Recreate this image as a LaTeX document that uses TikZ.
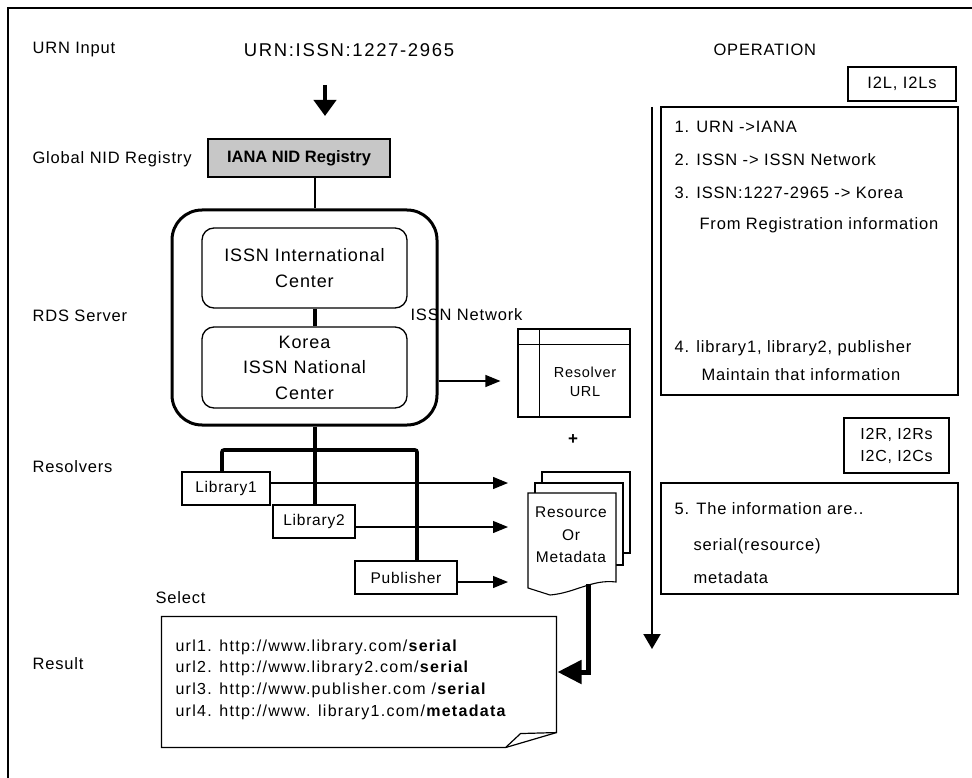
\documentclass[tikz,border=0pt]{standalone}
\usepackage{fontspec}
\setmainfont{Liberation Sans}[LetterSpace=5]
\usetikzlibrary{arrows.meta}

\newcommand{\txtsize}[2]{\fontsize{#1}{#2}\selectfont}

\begin{document}
\begin{tikzpicture}[x=1pt, y=-1pt, line width=1.1pt,
  lbl/.style={anchor=west, inner sep=0pt, font=\txtsize{16.5}{18}},
  optxt/.style={anchor=west, inner sep=0pt, font=\txtsize{16.5}{18}},
  box/.style={draw, line width=1.2pt, inner sep=0pt},
  centerbox/.style={draw, line width=1.3pt, rounded corners=12pt, inner sep=0pt,
    align=center, font=\txtsize{18}{25.5}},
  lib/.style={box, minimum height=33pt, font=\txtsize{15.5}{18}},
  arr/.style={-{Triangle[length=15pt,width=12pt]}, line width=1.2pt},
  bus/.style={line width=3.6pt},
]
  \useasboundingbox (0,0) rectangle (972,778);

  % Frame
  \draw[line width=1.2pt] (8,778) -- (8,8) -- (972,8);

  % Labels on the left
  \node[lbl] (lblurn) at (32,50) {URN Input};
  \node[lbl] (lblglobal) at (32,159) {Global NID Registry};
  \node[lbl] (lblres) at (32,467) {Resolvers};
  \node[lbl] (lblrds) at (32,316) {RDS Server};
  \node[lbl] (lblresult) at (32,664) {Result};

  % Input
  \node[inner sep=0pt, font=\txtsize{18.5}{20}\addfontfeatures{LetterSpace=9}] (urn) at (349,50) {URN:ISSN:1227-2965};
  \coordinate (intop) at (325,85);
  \coordinate (intip) at (325,116);
  \draw[-{Triangle[length=16pt,width=22pt]}, line width=4.5pt] (intop) -- (intip);

  % Registry
  \node[box, fill=black!22, minimum width=182pt, minimum height=38pt,
    font=\txtsize{16.5}{18}\bfseries\addfontfeatures{LetterSpace=0}] (iana) at (299,158) {IANA NID Registry};
  \coordinate (spine) at (315,0);

  % RDS server
  \node[draw, line width=3pt, rounded corners=30pt, minimum width=265pt, minimum height=215pt] (rds) at (304.5,317.5) {};
  \node[centerbox, minimum width=205pt, minimum height=80pt] (intl) at (304.5,268) {ISSN International\\Center};
  \node[centerbox, minimum width=205pt, minimum height=81pt] (kor) at (304.5,367.5) {Korea\\ISSN National\\Center};
  \node[lbl] (net) at (410,315) {ISSN Network};
  \draw[line width=2.4pt] (iana.south -| spine) -- (rds.north -| spine);
  \draw[line width=3.6pt] (intl.south -| spine) -- (kor.north -| spine);

  % Resolver URL
  \node[box, minimum width=112pt, minimum height=88pt] (resurl) at (574,373) {};
  \draw[line width=1.2pt] ([xshift=22pt]resurl.north west) -- ([xshift=22pt]resurl.south west);
  \draw[line width=1.2pt] ([yshift=-16pt]resurl.north west) -- ([yshift=-16pt]resurl.north east);
  \node[align=center, font=\txtsize{14.5}{19}] (resurltxt) at (585,382) {Resolver\\URL};
  \draw[arr, shorten >=17pt] ([yshift=-63.5pt]rds.east) -- ([yshift=-63.5pt]rds.east -| resurl.west);
  \node[font=\txtsize{17}{18}\bfseries] (plus) at (573,440) {+};

  % Resolvers
  \node[lib, minimum width=88pt] (lib1) at (226,488.5) {Library1};
  \node[lib, minimum width=82pt] (lib2) at (314,521.5) {Library2};
  \node[lib, minimum width=102pt] (pub) at (406,577.5) {Publisher};
  \coordinate (busL) at (222,450);
  \coordinate (busR) at (417,450);
  \draw[bus, rounded corners=2pt] (lib1.north -| busL) -- (busL) -- (busR) -- (pub.north -| busR);
  \draw[bus] (rds.south -| spine) -- (lib2.north -| spine);

  % Resource or metadata
  \draw[fill=white] (542,472) rectangle (630,553);
  \draw[fill=white] (535,483) rectangle (623,565);
  \draw[fill=white] (528,588) -- (550,595) .. controls (575,593) and (592,579) .. (616,582)
    -- (616,493) -- (528,493) -- cycle;
  \node[align=center, font=\txtsize{15.5}{22.5}] (resdoc) at (571,535) {Resource\\Or\\Metadata};
  \coordinate (front) at (528,493);
  \draw[arr, shorten >=20pt] ([yshift=5.5pt]lib1.east) -- ([yshift=5.5pt]lib1.east -| front);
  \draw[arr, shorten >=20pt] ([yshift=-5.5pt]lib2.east) -- ([yshift=-5.5pt]lib2.east -| front);
  \draw[arr, shorten >=20pt] ([yshift=-4.5pt]pub.east) -- ([yshift=-4.5pt]pub.east -| front);

  % Result
  \node[lbl, font=\txtsize{16.5}{18}] (select) at (155,598) {Select};
  \node[minimum width=394pt, minimum height=130pt, inner sep=0pt] (resbox) at (359,682) {};
  \draw[line width=1.2pt] (resbox.north west) -- (resbox.north east) -- ([yshift=15pt]resbox.south east)
    -- ([xshift=-51pt]resbox.south east) -- (resbox.south west) -- cycle;
  \draw[line width=1.2pt] ([yshift=15pt]resbox.south east) -- ([xshift=-36pt,yshift=14pt]resbox.south east)
    -- ([xshift=-51pt]resbox.south east);
  \node[anchor=west, align=left, inner sep=0pt, font=\txtsize{16}{21.7}\addfontfeatures{LetterSpace=8}] (urls) at (175,679.5)
    {url1. http://www.library.com/\textbf{serial}\\
     url2. http://www.library2.com/\textbf{serial}\\
     url3. http://www.publisher.com /\textbf{serial}\\
     url4. http://www. library1.com/\textbf{metadata}};
  \coordinate (docdrop) at (588,584);
  \draw[-{Triangle[length=24pt,width=23pt]}, line width=5pt, shorten >=1pt] (docdrop) |- ([yshift=10pt]resbox.east);

  % Operation
  \node[lbl] (oper) at (713,50) {OPERATION};
  \node[box, minimum width=108pt, minimum height=34pt, font=\txtsize{16.5}{18}] (i2l) at (902,84) {I2L, I2Ls};
  \node[box, minimum width=297pt, minimum height=288pt] (ops) at (809.5,251) {};
  \node[optxt] (op1) at (674,127) {1. URN ->IANA};
  \node[optxt] (op2) at (674,160) {2. ISSN -> ISSN Network};
  \node[optxt] (op3) at (674,193) {3. ISSN:1227-2965 -> Korea};
  \node[optxt] (op3b) at (699,225) {From Registration information};
  \node[optxt] (op4) at (674,348) {4. library1, library2, publisher};
  \node[optxt] (op4b) at (701,375) {Maintain that information};
  \node[box, minimum width=105pt, minimum height=55pt, align=center, font=\txtsize{16}{22}] (i2r) at (896.5,445.5) {I2R, I2Rs\\I2C, I2Cs};
  \node[box, minimum width=297pt, minimum height=111pt] (info) at (809.5,538.5) {};
  \node[optxt] (op5) at (674,509) {5. The information are..};
  \node[optxt] (op5a) at (693,546) {serial(resource)};
  \node[optxt] (op5b) at (693,578) {metadata};
  \coordinate (optop) at (652,107);
  \coordinate (opbot) at (652,649);
  \draw[-{Triangle[length=15pt,width=17pt]}, line width=2pt] (optop) -- (opbot);
\end{tikzpicture}
\end{document}
